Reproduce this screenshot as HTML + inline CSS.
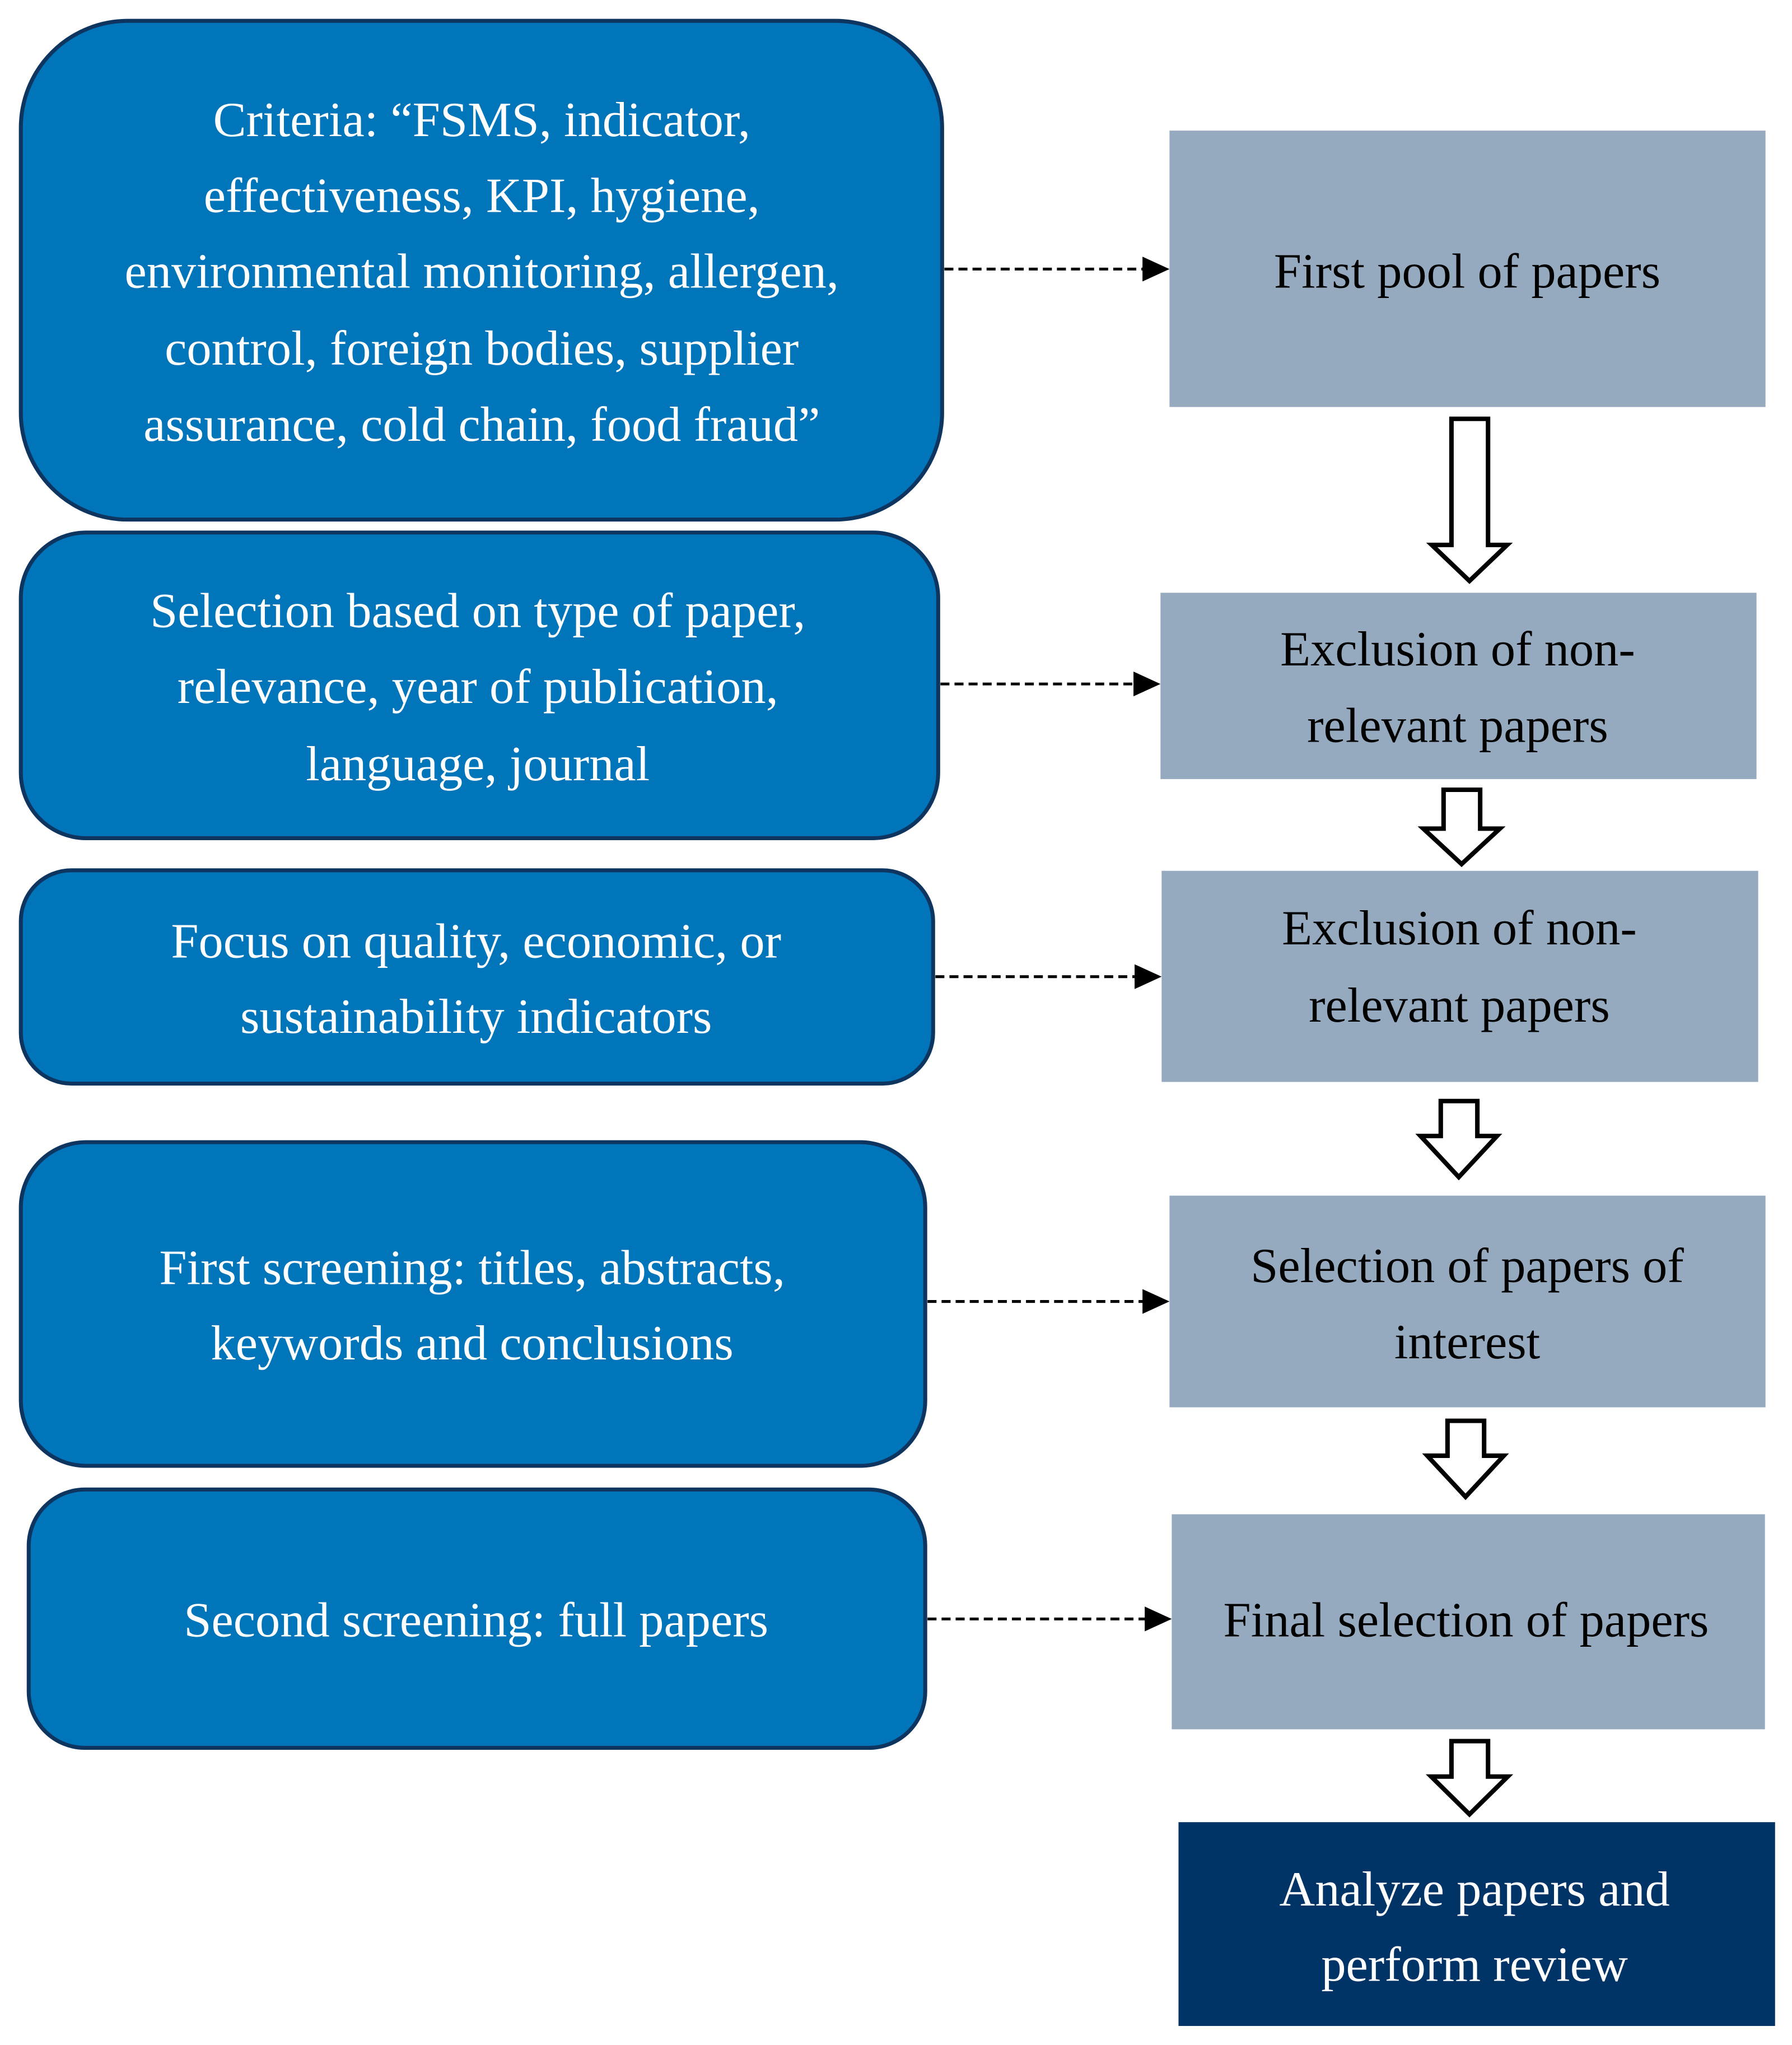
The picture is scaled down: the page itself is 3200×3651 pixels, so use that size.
<!DOCTYPE html>
<html><head><meta charset="utf-8"><style>html,body{margin:0;padding:0;background:#fff}svg{display:block}</style></head>
<body>
<svg width="3200" height="3651" viewBox="0 0 3200 3651" xmlns="http://www.w3.org/2000/svg" font-family="'Liberation Serif', serif" font-size="88">
<g transform="scale(1.005)">
<g fill="#0075BA" stroke="#0E3560" stroke-width="7">
<rect x="37" y="37" width="1637" height="886" rx="190"/>
<rect x="37" y="946" width="1630" height="543" rx="116"/>
<rect x="37" y="1546" width="1621" height="379" rx="90"/>
<rect x="37" y="2029" width="1607" height="575" rx="116"/>
<rect x="51" y="2646" width="1593" height="459" rx="100"/>
</g>
<g fill="#95AABE">
<rect x="2078" y="232" width="1059" height="491"/>
<rect x="2062" y="1053" width="1059" height="331"/>
<rect x="2064" y="1547" width="1060" height="375"/>
<rect x="2078" y="2124" width="1059" height="376"/>
<rect x="2082" y="2690" width="1054" height="382"/>
</g>
<rect x="2094" y="3237" width="1060" height="362" fill="#003366"/>
<g stroke="#000" stroke-width="5" stroke-dasharray="16,9">
<line x1="1678" y1="478" x2="2035" y2="478"/>
<line x1="1671" y1="1215" x2="2020" y2="1215"/>
<line x1="1662" y1="1735" x2="2022" y2="1735"/>
<line x1="1648" y1="2312" x2="2035" y2="2312"/>
<line x1="1648" y1="2876" x2="2040" y2="2876"/>
</g>
<g fill="#000">
<polygon points="2030,456 2078,478 2030,500"/>
<polygon points="2014,1193 2062,1215 2014,1237"/>
<polygon points="2016,1713 2064,1735 2016,1757"/>
<polygon points="2030,2290 2078,2312 2030,2334"/>
<polygon points="2034,2854 2082,2876 2034,2898"/>
</g>
<g fill="#fff" stroke="#000" stroke-width="8" stroke-linejoin="miter">
<polygon points="2579,744 2644,744 2644,968 2678,968 2611,1032 2544,968 2579,968"/>
<polygon points="2565,1403 2630,1403 2630,1472 2665,1472 2597,1535 2529,1472 2565,1472"/>
<polygon points="2560,1956 2625,1956 2625,2018 2660,2018 2592,2091 2524,2018 2560,2018"/>
<polygon points="2572,2524 2637,2524 2637,2586 2672,2586 2604,2659 2536,2586 2572,2586"/>
<polygon points="2579,3093 2644,3093 2644,3156 2679,3156 2611,3223 2543,3156 2579,3156"/>
</g>
<g fill="#fff" text-anchor="middle" dominant-baseline="central">
<text x="856" y="213">Criteria: “FSMS, indicator,</text>
<text x="856" y="348">effectiveness, KPI, hygiene,</text>
<text x="856" y="482">environmental monitoring, allergen,</text>
<text x="856" y="619">control, foreign bodies, supplier</text>
<text x="856" y="754">assurance, cold chain, food fraud”</text>
<text x="849" y="1085">Selection based on type of paper,</text>
<text x="849" y="1220">relevance, year of publication,</text>
<text x="849" y="1357">language, journal</text>
<text x="846" y="1672">Focus on quality, economic, or</text>
<text x="846" y="1806">sustainability indicators</text>
<text x="839" y="2252">First screening: titles, abstracts,</text>
<text x="839" y="2386">keywords and conclusions</text>
<text x="846" y="2878">Second screening: full papers</text>
<text x="2620" y="3356">Analyze papers and</text>
<text x="2620" y="3490">perform review</text>
</g>
<g fill="#000" text-anchor="middle" dominant-baseline="central">
<text x="2607" y="482">First pool of papers</text>
<text x="2590" y="1153">Exclusion of non-</text>
<text x="2590" y="1289">relevant papers</text>
<text x="2593" y="1649">Exclusion of non-</text>
<text x="2593" y="1786">relevant papers</text>
<text x="2607" y="2249">Selection of papers of</text>
<text x="2607" y="2384">interest</text>
<text x="2605" y="2878">Final selection of papers</text>
</g>
</g>
</svg>
</body></html>
